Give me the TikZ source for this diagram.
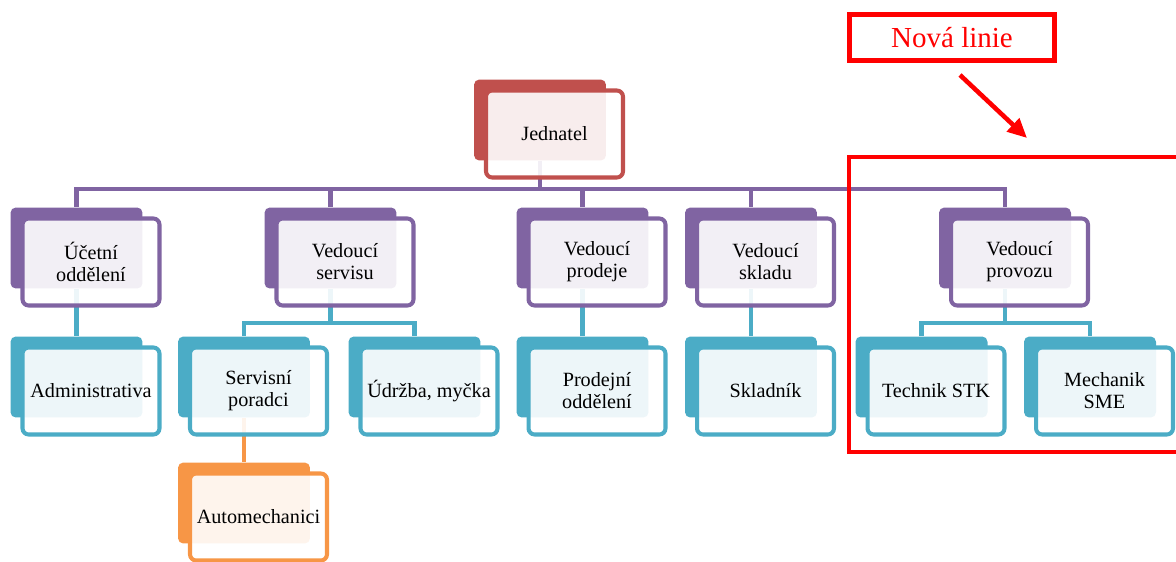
\documentclass[tikz,border=0pt]{standalone}
\usepackage{fontspec}
\setmainfont{Liberation Serif}
\usetikzlibrary{arrows.meta,backgrounds}
\definecolor{colPurple}{HTML}{8064A2}
\definecolor{colRed}{HTML}{C0504D}
\definecolor{colTeal}{HTML}{4BACC6}
\definecolor{colOrange}{HTML}{F79646}
\tikzset{
	backbox/.style={rectangle, rounded corners=3pt, fill=#1, minimum width=2.64cm, minimum height=1.62cm, inner sep=0pt},
	frontbox/.style={rectangle, rounded corners=3.5pt, draw=#1, line width=2.3pt, fill=white, fill opacity=0.9, text opacity=1, minimum width=2.74cm, minimum height=1.74cm, inner sep=0pt, align=center, font=\fontsize{11.5}{12.5}\selectfont},
	link/.style={draw=#1, line width=2.5pt},
	redline/.style={draw=red, line width=2.6pt}
}
% back plate + front card, text sits on the card
\newcommand{\orgbox}[4]{\node[backbox=#3] (#1) at (#2) {};
	\node[frontbox=#3] (#1f) at ([shift={(14.5,14)}]#1.center) {#4};}

\begin{document}
\begin{tikzpicture}[x=0.02cm, y=-0.02cm]
			\useasboundingbox (0,0) rectangle (1176,561);
			\clip (0,0) rectangle (1176,561);
			
			%%%%% BOXES %%%%%
			\orgbox{jed}{540,120}{colRed}{Jednatel}
			
			\orgbox{uo}{76.5,248}{colPurple}{Účetní\\oddělení}
			\orgbox{vs}{330.5,248}{colPurple}{Vedoucí\\servisu}
			\orgbox{vp}{582.5,248}{colPurple}{Vedoucí\\prodeje}
			\orgbox{vsk}{751,248}{colPurple}{Vedoucí\\skladu}
			\orgbox{vpr}{1005,248}{colPurple}{Vedoucí\\provozu}
			
			\orgbox{adm}{76.5,377}{colTeal}{Administrativa}
			\orgbox{sp}{244,377}{colTeal}{Servisní\\poradci}
			\orgbox{ud}{414.5,377}{colTeal}{Údržba, myčka}
			\orgbox{po}{582.5,377}{colTeal}{Prodejní\\oddělení}
			\orgbox{skl}{751,377}{colTeal}{Skladník}
			\orgbox{tech}{921.5,377}{colTeal}{Technik STK}
			\orgbox{mech}{1090,377}{colTeal}{Mechanik\\SME}
			
			\orgbox{auto}{244,503}{colOrange}{Automechanici}
			
			%%%%% LINKS %%%%%
			\begin{scope}[on background layer]
				\foreach \c in {uo,vs,vp,vsk,vpr}
					\draw[link=colPurple] (jed.south) -- ++(0,28) -| (\c.north);
				\draw[link=colTeal] (uo.south) -- (adm.north);
				\foreach \c in {sp,ud}
					\draw[link=colTeal] (vs.south) -- ++(0,34) -| (\c.north);
				\draw[link=colTeal] (vp.south) -- (po.north);
				\draw[link=colTeal] (vsk.south) -- (skl.north);
				\foreach \c in {tech,mech}
					\draw[link=colTeal] (vpr.south) -- ++(0,34) -| (\c.north);
				\draw[link=colOrange] (sp.south) -- (auto.north);
			\end{scope}
			
			%%%%% NEW LINE MARK %%%%%
			\node[redline, minimum width=4.1cm, minimum height=0.92cm, text=red, font=\fontsize{16.5}{18}\selectfont] (nova) at (952,37.5) {Nová linie};
			\coordinate (arrS) at (960,75);
			\coordinate (arrE) at (1027,138);
			\draw[redline, -{Triangle[length=11pt,width=10pt]}] (arrS) -- (arrE);
			\draw[redline] (849,157) rectangle (1190,452);
			
\end{tikzpicture}
\end{document}
